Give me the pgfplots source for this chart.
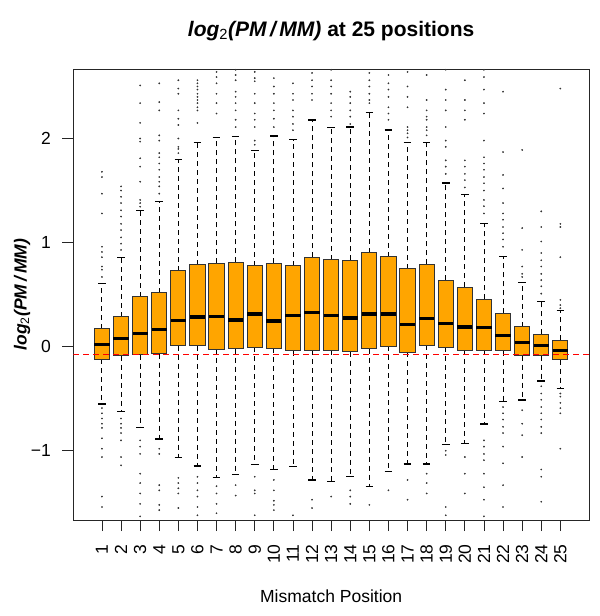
\documentclass[border=0pt]{standalone}
\usepackage{fontspec}
\setmainfont{Liberation Sans}
\usepackage{pgfplots}
\pgfplotsset{compat=1.18}
\usepgfplotslibrary{statistics}
\definecolor{boxorange}{HTML}{FFA500}
\definecolor{boxedge}{HTML}{333333}
\newcommand\bx[7]{%
  \addplot[black, mark=*, mark size=0.65bp, mark options={solid, fill=black!80, draw=black!80},
    boxplot prepared={draw position=#1, median=#2, upper quartile=#3,
      lower quartile=#4, upper whisker=#5, lower whisker=#6}]
    coordinates {#7};}
\begin{document}
\begin{tikzpicture}
\path[use as bounding box] (-73.3bp,-96bp) rectangle (526.7bp,520bp);
\begin{axis}[
  scale only axis, width=515.7bp, height=450.7bp,
  xmin=-0.5, xmax=26.5, ymin=-1.665, ymax=2.665,
  axis line style={line width=0.9bp, black!85},
  xtick={1,...,25}, ytick={-1,0,1,2},
  yticklabels={−1,0,1,2},
  xtick pos=lower, ytick pos=left,
  tick align=outside, major tick length=11bp,
  tick style={black!85, line width=0.8bp},
  ticklabel style={font=\fontsize{17.5bp}{20bp}\selectfont},
  xticklabel style={rotate=90, anchor=east, xshift=-10bp},
  yticklabel style={anchor=east, xshift=-8bp},
  /pgf/number format/assume math mode=true,
  boxplot/draw direction=y,
  boxplot/box extend=0.8,
  boxplot/whisker extend=0.4,
  boxplot/every box/.style={draw=boxedge, fill=boxorange, line width=1bp, solid},
  boxplot/every median/.style={line width=3.5bp, black, solid},
  boxplot/draw/lower whisker/.code={%
    \draw[black, line width=0.9bp, dash pattern=on 5bp off 4bp]
      (boxplot box cs:\pgfplotsboxplotvalue{lower quartile},0.5) --
      (boxplot box cs:\pgfplotsboxplotvalue{lower whisker},0.5);
    \draw[black, line width=1.5bp, solid]
      (boxplot whisker cs:\pgfplotsboxplotvalue{lower whisker},0) --
      (boxplot whisker cs:\pgfplotsboxplotvalue{lower whisker},1);},
  boxplot/draw/upper whisker/.code={%
    \draw[black, line width=0.9bp, dash pattern=on 5bp off 4bp]
      (boxplot box cs:\pgfplotsboxplotvalue{upper quartile},0.5) --
      (boxplot box cs:\pgfplotsboxplotvalue{upper whisker},0.5);
    \draw[black, line width=1.5bp, solid]
      (boxplot whisker cs:\pgfplotsboxplotvalue{upper whisker},0) --
      (boxplot whisker cs:\pgfplotsboxplotvalue{upper whisker},1);},
]
\bx{1}{0.023}{0.173}{-0.121}{0.609}{-0.55}{(0,1.68)(0,1.63)(0,1.47)(0,1.28)(0,0.96)(0,0.91)(0,0.86)(0,0.77)(0,0.74)(0,0.67)(0,-0.59)(0,-0.64)(0,-0.69)(0,-0.74)(0,-0.78)(0,-0.88)(0,-0.98)(0,-1.06)(0,-1.44)(0,-1.54)}
\bx{2}{0.077}{0.288}{-0.089}{0.855}{-0.624}{(0,1.54)(0,1.50)(0,1.44)(0,1.38)(0,1.31)(0,1.25)(0,1.18)(0,1.12)(0,1.05)(0,0.99)(0,0.93)(0,-0.69)(0,-0.74)(0,-0.78)(0,-0.83)(0,-0.90)(0,-1.06)(0,-1.14)}
\bx{3}{0.128}{0.48}{-0.077}{1.307}{-0.778}{(0,2.51)(0,2.34)(0,2.15)(0,2.00)(0,1.97)(0,1.81)(0,1.73)(0,1.585)(0,1.41)(0,1.38)(0,1.345)(0,-0.90)(0,-0.96)(0,-1.03)(0,-1.22)(0,-1.31)(0,-1.41)(0,-1.51)(0,-1.63)}
\bx{4}{0.167}{0.519}{-0.067}{1.397}{-0.887}{(0,2.53)(0,2.35)(0,2.27)(0,2.03)(0,1.98)(0,1.86)(0,1.82)(0,1.76)(0,1.70)(0,1.63)(0,1.585)(0,1.54)(0,1.47)(0,-0.98)(0,-1.03)(0,-1.33)(0,-1.38)(0,-1.52)(0,-1.57)}
\bx{5}{0.253}{0.73}{0.01}{1.80}{-1.066}{(0,2.56)(0,2.48)(0,2.43)(0,2.27)(0,2.19)(0,2.13)(0,2.00)(0,1.92)(0,1.90)(0,1.86)(0,-1.26)(0,-1.31)(0,-1.36)(0,-1.41)(0,-1.55)}
\bx{6}{0.285}{0.788}{0.007}{1.96}{-1.146}{(0,2.56)(0,2.53)(0,2.50)(0,2.47)(0,2.43)(0,2.40)(0,2.37)(0,2.34)(0,2.30)(0,2.27)(0,2.15)(0,-1.25)(0,-1.31)(0,-1.38)(0,-1.44)(0,-1.54)(0,-1.62)}
\bx{7}{0.288}{0.80}{-0.025}{2.008}{-1.258}{(0,2.64)(0,2.59)(0,2.53)(0,2.43)(0,2.34)(0,2.24)(0,-1.34)(0,-1.41)(0,-1.51)(0,-1.60)}
\bx{8}{0.256}{0.81}{-0.019}{2.017}{-1.226}{(0,2.66)(0,2.61)(0,2.56)(0,2.45)(0,2.40)(0,2.34)(0,2.27)(0,2.18)(0,2.11)(0,-1.33)(0,-1.43)}
\bx{9}{0.314}{0.778}{-0.003}{1.883}{-1.13}{(0,2.64)(0,2.58)(0,2.55)(0,2.43)(0,2.34)(0,2.24)(0,2.18)(0,2.11)(0,1.98)(0,1.94)(0,-1.25)(0,-1.38)(0,-1.41)(0,-1.62)}
\bx{10}{0.247}{0.80}{-0.016}{2.024}{-1.178}{(0,2.58)(0,2.50)(0,2.43)(0,2.34)(0,2.27)(0,2.19)(0,2.11)(0,-1.28)(0,-1.38)(0,-1.48)(0,-1.52)(0,-1.57)}
\bx{11}{0.298}{0.778}{-0.041}{1.99}{-1.15}{(0,2.53)(0,2.43)(0,2.37)(0,2.27)(0,2.21)(0,2.14)(0,2.08)(0,-1.62)}
\bx{12}{0.33}{0.859}{-0.032}{2.18}{-1.28}{(0,2.63)(0,2.56)(0,2.50)(0,2.43)(0,2.37)(0,-1.47)(0,-1.55)}
\bx{13}{0.301}{0.833}{-0.032}{2.104}{-1.297}{(0,2.66)(0,2.56)(0,2.50)(0,2.43)(0,2.34)(0,2.27)(0,2.21)(0,-1.44)}
\bx{14}{0.276}{0.83}{-0.048}{2.11}{-1.249}{(0,2.45)(0,2.40)(0,2.34)(0,2.27)(0,2.21)(0,2.14)(0,-1.38)(0,-1.44)(0,-1.51)}
\bx{15}{0.314}{0.903}{-0.019}{2.25}{-1.345}{(0,2.63)(0,2.56)(0,2.50)(0,2.43)(0,2.37)(0,2.34)(0,-1.52)}
\bx{16}{0.314}{0.862}{0.004}{2.082}{-1.20}{(0,2.61)(0,2.53)(0,2.47)(0,2.40)(0,2.30)(0,2.24)(0,2.18)(0,-1.38)}
\bx{17}{0.215}{0.75}{-0.054}{1.96}{-1.127}{(0,2.64)(0,2.50)(0,2.40)(0,2.30)(0,2.11)(0,2.08)(0,2.05)(0,2.01)(0,-1.28)(0,-1.47)}
\bx{18}{0.272}{0.791}{0.016}{1.96}{-1.127}{(0,2.61)(0,2.37)(0,2.27)(0,2.21)(0,2.18)(0,2.11)(0,2.08)(0,2.03)(0,-1.22)(0,-1.31)(0,-1.41)}
\bx{19}{0.224}{0.638}{-0.006}{1.575}{-0.938}{(0,2.66)(0,2.47)(0,2.37)(0,2.27)(0,2.11)(0,1.98)(0,1.92)(0,1.79)(0,1.73)(0,1.66)(0,-1.00)(0,-1.04)(0,-1.54)(0,-1.62)}
\bx{20}{0.189}{0.573}{-0.032}{1.46}{-0.928}{(0,2.56)(0,2.37)(0,2.27)(0,2.18)(0,1.79)(0,1.73)(0,1.66)(0,1.60)(0,1.53)(0,-1.06)(0,-1.22)(0,-1.41)}
\bx{21}{0.183}{0.455}{-0.032}{1.185}{-0.745}{(0,2.66)(0,2.59)(0,2.47)(0,2.34)(0,2.24)(0,1.98)(0,1.82)(0,1.76)(0,1.70)(0,1.63)(0,1.57)(0,1.50)(0,1.41)(0,1.35)(0,1.28)(0,-0.90)(0,-0.96)(0,-1.03)(0,-1.09)(0,-1.22)(0,-1.35)(0,-1.47)(0,-1.63)}
\bx{22}{0.109}{0.32}{-0.041}{0.865}{-0.528}{(0,2.45)(0,1.87)(0,1.65)(0,1.52)(0,1.38)(0,1.28)(0,1.22)(0,1.15)(0,1.09)(0,1.03)(0,0.96)(0,-0.58)(0,-0.64)(0,-0.70)(0,-0.77)(0,-0.83)(0,-0.96)(0,-1.12)(0,-1.33)(0,-1.54)}
\bx{23}{0.038}{0.192}{-0.086}{0.615}{-0.512}{(0,1.89)(0,1.14)(0,0.93)(0,0.77)(0,0.70)(0,0.67)(0,-0.61)(0,-0.74)(0,-0.85)(0,-1.06)}
\bx{24}{0.01}{0.119}{-0.086}{0.432}{-0.33}{(0,1.30)(0,1.15)(0,1.01)(0,0.90)(0,0.83)(0,0.77)(0,0.70)(0,0.64)(0,0.58)(0,0.51)(0,-0.38)(0,-0.45)(0,-0.51)(0,-0.58)(0,-0.64)(0,-0.70)(0,-0.77)(0,-0.83)(0,-1.18)(0,-1.25)(0,-1.49)}
\bx{25}{-0.035}{0.064}{-0.125}{0.346}{-0.40}{(0,2.48)(0,1.18)(0,1.15)(0,0.86)(0,0.45)(0,0.40)(0,0.37)(0,-0.45)(0,-0.48)(0,-0.54)(0,-0.59)(0,-0.64)(0,-0.98)}
\addplot[red, line width=1bp, dash pattern=on 6bp off 4bp, no marks] coordinates {(-0.5,-0.077) (26.5,-0.077)};
\end{axis}
\node[font=\fontsize{21bp}{24bp}\selectfont\bfseries] at (257.85bp,489bp)
  {\itshape log\textsubscript{\normalfont\mdseries 2}(PM\,/\,MM)\upshape{} at 25 positions};
\node[font=\fontsize{17.5bp}{20bp}\selectfont] at (257.85bp,-76bp) {Mismatch Position};
\node[font=\fontsize{17.5bp}{20bp}\selectfont\bfseries\itshape, rotate=90] at (-51.3bp,225.35bp)
  {log\textsubscript{\normalfont\mdseries 2}(PM\,/\,MM)};
\end{tikzpicture}
\end{document}
